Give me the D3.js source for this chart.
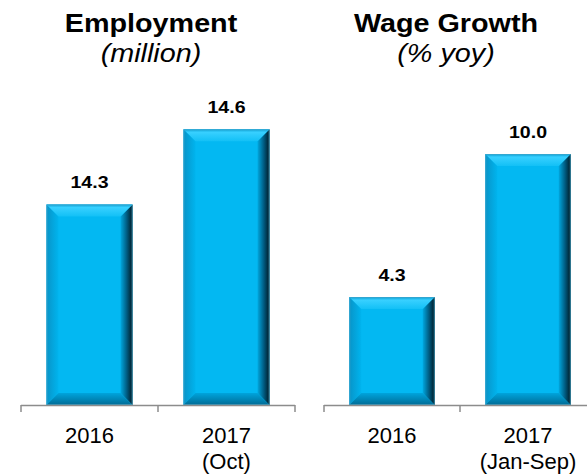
<!DOCTYPE html>
<html>
<head>
<meta charset="utf-8">
<script src="https://cdn.jsdelivr.net/npm/d3@7"></script>
<style>
  html, body { margin: 0; padding: 0; background: #fff; }
  svg { display: block; font-family: Arial, "Liberation Sans", sans-serif; }
</style>
</head>
<body>
<svg id="chart" width="587" height="474"></svg>
<script>
// Employment panel
const empCategories = ["2016", "2017"];
const empSubLabels = ["", "(Oct)"];
const empValues = [14.3, 14.6];
const empTitle = "Employment";
const empUnit = "(million)";

// Wage growth panel
const wageCategories = ["2016", "2017"];
const wageSubLabels = ["", "(Jan-Sep)"];
const wageValues = [4.3, 10.0];
const wageTitle = "Wage Growth";
const wageUnit = "(% yoy)";

const svg = d3.select("#chart");
const defs = svg.append("defs");

// Bevel gradients for the 3-D bar look
function grad(id, x1, y1, x2, y2, stops) {
  const g = defs.append("linearGradient").attr("id", id)
    .attr("x1", x1).attr("y1", y1).attr("x2", x2).attr("y2", y2);
  stops.forEach(([o, c]) => g.append("stop").attr("offset", o).attr("stop-color", c));
}
grad("bvTop", 0, 0, 0, 1, [[0, "#0a9fd4"], [0.25, "#38d0ff"], [1, "#12c0f6"]]);
grad("bvRight", 0, 0, 1, 0, [[0, "#00a8e0"], [0.5, "#005f86"], [1, "#001822"]]);
grad("bvBottom", 0, 0, 0, 1, [[0, "#00a4dc"], [1, "#006c96"]]);
grad("bvLeft", 0, 0, 1, 0, [[0, "#0894c8"], [1, "#00b4ee"]]);

const FACE = "#03b8f2";
const BEVEL = 12;
const BASE_Y = 405;

function drawPanel(opts) {
  const g = svg.append("g");
  const x = d3.scaleBand()
    .domain(opts.categories)
    .range(opts.xRange)
    .paddingInner(0.372)
    .paddingOuter(0.186);
  const y = d3.scaleLinear().domain(opts.yDomain).range([BASE_Y, opts.yTop]);

  const bars = g.selectAll("g.bar")
    .data(opts.categories.map((c, i) => ({ c, v: opts.values[i], sub: opts.sub[i] })))
    .join("g").attr("class", "bar");

  bars.each(function(d) {
    const b = d3.select(this);
    const x0 = x(d.c), x1 = x0 + x.bandwidth();
    const y0 = y(d.v), y1 = BASE_Y;
    const bv = Math.min(BEVEL, (y1 - y0) / 2);
    const pts = a => a.map(p => p.join(",")).join(" ");
    b.append("rect").attr("x", x0).attr("y", y0)
      .attr("width", x1 - x0).attr("height", y1 - y0).attr("fill", FACE);
    b.append("polygon").attr("fill", "url(#bvLeft)")
      .attr("points", pts([[x0, y0], [x0 + bv, y0 + bv], [x0 + bv, y1 - bv], [x0, y1]]));
    b.append("polygon").attr("fill", "url(#bvRight)")
      .attr("points", pts([[x1, y0], [x1 - bv, y0 + bv], [x1 - bv, y1 - bv], [x1, y1]]));
    b.append("polygon").attr("fill", "url(#bvBottom)")
      .attr("points", pts([[x0, y1], [x0 + bv, y1 - bv], [x1 - bv, y1 - bv], [x1, y1]]));
    b.append("polygon").attr("fill", "url(#bvTop)")
      .attr("points", pts([[x0, y0], [x1, y0], [x1 - bv, y0 + bv], [x0 + bv, y0 + bv]]));
    b.append("rect").attr("x", x0 + 0.5).attr("y", y0 + 0.5)
      .attr("width", x1 - x0 - 1).attr("height", y1 - y0 - 1)
      .attr("fill", "none").attr("stroke", "#4fa9c9").attr("stroke-width", 1).attr("stroke-opacity", 0.6);

    // value label
    b.append("text")
      .attr("transform", `translate(${x0 + x.bandwidth() / 2},${y0 - 16}) scale(1.15,1)`)
      .attr("text-anchor", "middle")
      .attr("font-weight", "bold").attr("font-size", 17).attr("fill", "#000")
      .text(d3.format(".1f")(d.v));

    // category labels
    b.append("text")
      .attr("x", x0 + x.bandwidth() / 2).attr("y", 443)
      .attr("text-anchor", "middle").attr("font-size", 22).attr("fill", "#000")
      .text(d.c);
    if (d.sub) {
      b.append("text")
        .attr("x", x0 + x.bandwidth() / 2).attr("y", 469)
        .attr("text-anchor", "middle").attr("font-size", 22).attr("fill", "#000")
        .text(d.sub);
    }
  });

  // baseline with tick marks at band boundaries
  const [r0, r1] = opts.xRange;
  g.append("line").attr("x1", r0).attr("x2", r1).attr("y1", BASE_Y + 0.5).attr("y2", BASE_Y + 0.5)
    .attr("stroke", "#8c8c8c").attr("stroke-width", 1.5);
  const bounds = d3.range(opts.categories.length + 1).map(i => r0 + i * x.step());
  g.selectAll("line.tick").data(bounds).join("line").attr("class", "tick")
    .attr("x1", d => d).attr("x2", d => d)
    .attr("y1", BASE_Y).attr("y2", BASE_Y + 7)
    .attr("stroke", "#8c8c8c").attr("stroke-width", 1.5);

  // titles
  g.append("text")
    .attr("transform", `translate(${opts.titleX},32) scale(1.15,1)`)
    .attr("text-anchor", "middle").attr("font-weight", "bold").attr("font-size", 25)
    .text(opts.title);
  g.append("text")
    .attr("transform", `translate(${opts.titleX},62) scale(1.15,1)`)
    .attr("text-anchor", "middle").attr("font-style", "italic").attr("font-size", 25)
    .text(opts.unit);
}

drawPanel({
  categories: empCategories, sub: empSubLabels, values: empValues,
  xRange: [21, 295], yDomain: [13.5, 15.0], yTop: 29,
  title: empTitle, unit: empUnit, titleX: 151
});
drawPanel({
  categories: wageCategories, sub: wageSubLabels, values: wageValues,
  xRange: [324, 596], yDomain: [0, 16], yTop: 3.5,
  title: wageTitle, unit: wageUnit, titleX: 446
});
</script>
</body>
</html>
